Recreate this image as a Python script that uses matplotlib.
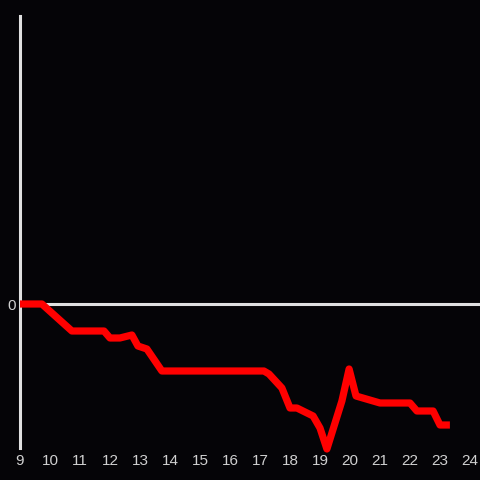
import matplotlib
matplotlib.use("Agg")
import matplotlib.pyplot as plt

# hours (decimal) and value relative to zero
hours = [9.0, 9.73, 10.73, 11.8, 12.0, 12.33, 12.73, 12.93, 13.23, 13.73,
         17.13, 17.3, 17.73, 18.0, 18.23, 18.77, 19.0, 19.23, 19.73, 19.97,
         20.2, 21.0, 22.0, 22.23, 22.77, 23.0, 23.33]
values = [0, 0, -27, -27, -34, -34, -31, -42, -45, -67,
          -67, -70, -84, -104, -104, -112, -124, -145, -97, -65,
          -92, -99, -99, -107, -107, -121, -121]

xticks = list(range(9, 25))

bg = "#050407"
fig = plt.figure(figsize=(4.8, 4.8), dpi=100, facecolor=bg)
ax = fig.add_axes([20 / 480, 32 / 480, 460 / 480, 432 / 480], facecolor=bg)

ax.axhline(0, color="#e0e0e0", lw=2.2, zorder=1)
ax.plot(hours, values, color="#ff0000", lw=5.2, solid_joinstyle="round",
        solid_capstyle="butt", zorder=3, clip_on=False)

ax.set_xlim(9, 9 + 460 / 30)
ax.set_ylim(-144, 288)

for s in ["top", "right", "bottom"]:
    ax.spines[s].set_visible(False)
ax.spines["left"].set_color("#e0e0e0")
ax.spines["left"].set_linewidth(2.2)

ax.set_xticks(xticks)
ax.set_xticklabels([str(t) for t in xticks])
ax.set_yticks([0])
ax.set_yticklabels(["0"])
ax.tick_params(length=0, colors="#d0d0d0", labelsize=11, pad=4)
for lab in ax.get_xticklabels() + ax.get_yticklabels():
    lab.set_family("Liberation Sans")
ax.tick_params(axis="y", pad=3)

fig.savefig("out.png", dpi=100, facecolor=bg)
